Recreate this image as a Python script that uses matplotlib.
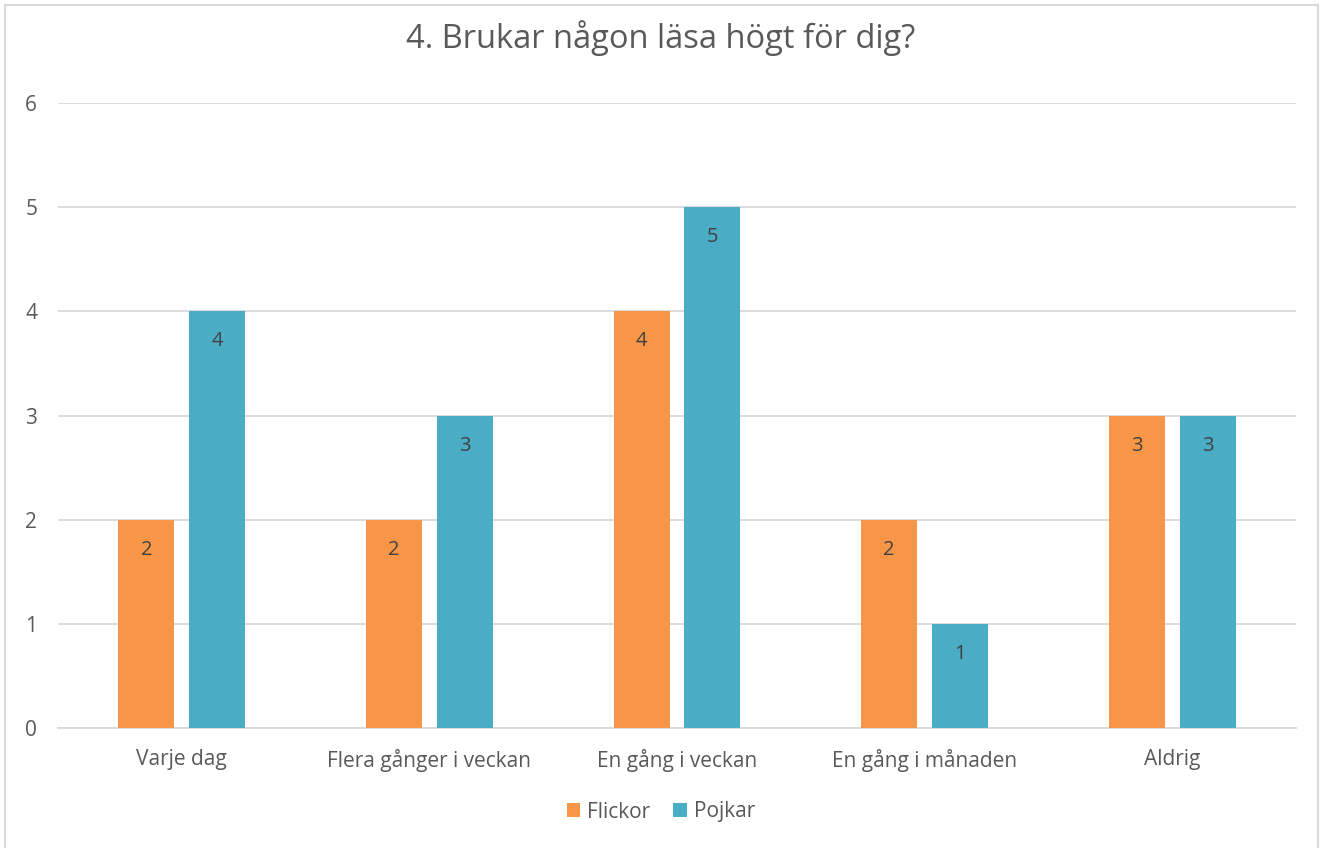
import matplotlib.pyplot as plt
import matplotlib.patches as mpatches
import numpy as np

plt.rcParams['font.family'] = ['Open Sans', 'DejaVu Sans']

# Data
categories = ['Varje dag', 'Flera gånger i veckan', 'En gång i veckan',
              'En gång i månaden', 'Aldrig']
flickor = [2, 2, 4, 2, 3]
pojkar = [4, 3, 5, 1, 3]
series_names = ['Flickor', 'Pojkar']
colors = ['#F79646', '#4BACC6']

fig = plt.figure(figsize=(13.22, 8.48), dpi=100)
ax = fig.add_axes([0.0439, 0.1415, 0.9364, 0.737])

# ram runt diagrammet
fig.patches.append(mpatches.Rectangle((5 / 1322, -0.01), 1313 / 1322, 1 - 5 / 848 + 0.01,
                                      transform=fig.transFigure, fill=False,
                                      edgecolor='#D9D9D9', linewidth=1.5))

x = np.arange(len(categories))
w = 0.226
off = 0.143

for vals, name, col, d in [(flickor, series_names[0], colors[0], -off),
                           (pojkar, series_names[1], colors[1], off)]:
    bars = ax.bar(x + d, vals, width=w, color=col, label=name, zorder=3)
    for b, v in zip(bars, vals):
        ax.annotate(f'{v}', (b.get_x() + b.get_width() / 2, v),
                    textcoords='offset pixels', xytext=(0, -30),
                    ha='center', va='center', fontsize=14.5, color='#404040', zorder=4)

ax.set_xlim(-0.5, len(categories) - 0.5)
ax.set_ylim(0, 6)
ax.set_yticks(range(0, 7))
ax.yaxis.grid(True, color='#D9D9D9', linewidth=1.3, zorder=0)
ax.set_axisbelow(True)
for s in ['top', 'right', 'left']:
    ax.spines[s].set_visible(False)
ax.spines['bottom'].set_color('#D9D9D9')
ax.spines['bottom'].set_linewidth(1.3)
ax.set_xticks(x)
ax.set_xticklabels(categories)
ax.tick_params(axis='x', length=0, pad=15, labelsize=15, labelcolor='#595959')
ax.tick_params(axis='y', length=0, pad=15, labelsize=15, labelcolor='#595959')

fig.text(0.5, 1 - 38 / 848, '4. Brukar någon läsa högt för dig?', ha='center', va='center',
         fontsize=23.5, color='#595959')

ax.legend(loc='center', bbox_to_anchor=(0.5, 1 - 812 / 848), bbox_transform=fig.transFigure,
          ncol=2, frameon=False, fontsize=15, labelcolor='#595959',
          handlelength=0.65, handleheight=0.65, handletextpad=0.35, columnspacing=1.1)

fig.savefig('out.png', dpi=100)
